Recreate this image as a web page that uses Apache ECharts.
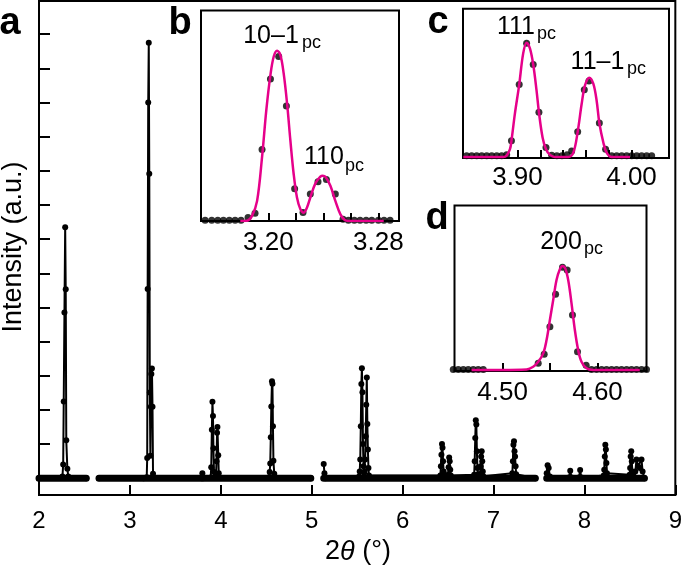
<!DOCTYPE html>
<html>
<head>
<meta charset="utf-8">
<script src="https://cdn.jsdelivr.net/npm/echarts@6/dist/echarts.min.js"></script>
<style>
html,body{margin:0;padding:0;background:#fff;}
#c{width:685px;height:576px;}
</style>
</head>
<body>
<div id="c"></div>
<script>
// ---------- main pattern (2θ in degrees, intensity in arbitrary units; null = gap in scan) ----------
const mainTheta = [
  2.000, 2.258, 2.266, 2.272, 2.280, 2.288, 2.294, 2.300, 2.312, 2.322, 2.520,
  2.590,
  2.660, 3.150, 3.185, 3.1903, 3.1954, 3.2015, 3.2075, 3.2131, 3.2191, 3.2252, 3.2305, 3.2361, 3.2422, 3.2487, 3.2543, 3.2582,
  3.790, 3.797, 3.804,
  3.8887, 3.8947, 3.9015, 3.9080, 3.9138, 3.9188, 3.9250, 3.9310, 3.9475, 3.9528, 3.9586, 3.9627, 3.9718, 3.9773, 3.9830,
  4.5320, 4.5375, 4.5438, 4.5498, 4.5558, 4.5631, 4.5680, 4.5736, 4.5789, 4.5880, 4.5940, 4.990,
  5.060,
  5.132, 5.140, 5.150,
  5.522, 5.528, 5.534, 5.540, 5.546, 5.552, 5.558, 5.564, 5.570, 5.576, 5.582, 5.588, 5.594, 5.600, 5.606, 5.612, 5.618, 5.624, 5.630,
  6.415, 6.421, 6.427, 6.433, 6.439, 6.445, 6.451, 6.457, 6.500, 6.506, 6.512, 6.518, 6.524, 6.530,
  6.787, 6.793, 6.799, 6.805, 6.811, 6.817, 6.823, 6.829, 6.852, 6.858, 6.864, 6.870, 6.876, 6.882, 6.888,
  7.207, 7.213, 7.219, 7.225, 7.231, 7.237, 7.243, 7.249, 7.460,
  7.520,
  7.585, 7.595, 7.607, 7.620, 7.830, 7.844, 7.858, 7.940, 7.953, 7.966,
  8.212, 8.218, 8.224, 8.230, 8.236, 8.242, 8.248,
  8.497, 8.503, 8.509, 8.515, 8.521, 8.527, 8.535, 8.560, 8.573, 8.590, 8.610, 8.628, 8.640, 8.660
];
const mainCounts = [
  0, 0.05, 0.40, 2.25, 4.85, 7.35, 5.53, 1.11, 0.28, 0.05, 0,
  null,
  0, 0, 0.03, 0.59, 5.54, 11.0, 12.75, 8.91, 2.51, 0.66, 2.09, 3.05, 3.21, 2.09, 0.13, 0.02,
  0, 0.15, 0,
  0.02, 0.32, 1.42, 2.24, 1.82, 0.88, 0.18, 0.02, 0.12, 0.50, 1.33, 1.50, 0.67, 0.15, 0.02,
  0.03, 0.18, 0.43, 1.20, 2.10, 2.84, 2.77, 1.52, 0.51, 0.13, 0.02, 0,
  null,
  0.42, 0.15, 0,
  0.05, 0.20, 0.55, 1.52, 2.76, 3.22, 2.52, 1.00, 0.35, 0.16, 0.20, 0.55, 1.23, 2.15, 2.95, 1.59, 0.84, 0.30, 0.08,
  0.08, 0.35, 0.69, 1.00, 0.89, 0.50, 0.20, 0.08, 0.10, 0.32, 0.61, 0.50, 0.25, 0.08,
  0.10, 0.50, 1.18, 1.70, 1.57, 0.79, 0.30, 0.12, 0.12, 0.35, 0.64, 0.79, 0.50, 0.20, 0.06,
  0.15, 0.50, 0.98, 1.08, 0.79, 0.64, 0.35, 0.12, 0,
  null,
  0.15, 0.38, 0.30, 0.05, 0.02, 0.22, 0.02, 0.02, 0.24, 0.02,
  0.08, 0.25, 0.64, 0.98, 0.84, 0.45, 0.15,
  0.10, 0.30, 0.64, 0.79, 0.50, 0.20, 0.10, 0.20, 0.55, 0.35, 0.30, 0.55, 0.20, 0
];
const mainXTicks = [2, 3, 4, 5, 6, 7, 8, 9];
const mainYTicks = [0, 1, 2, 3, 4, 5, 6, 7, 8, 9, 10, 11, 12, 13];

// ---------- inset b: 10-1 / 110 (normalised) ----------
const bTheta = [3.1540, 3.1588, 3.1632, 3.1673, 3.1716, 3.1758, 3.1801, 3.1852, 3.1903, 3.1954, 3.2015, 3.2075, 3.2131, 3.2191, 3.2252, 3.2305, 3.2361, 3.2422, 3.2487, 3.2543, 3.2582, 3.2625, 3.2667, 3.2711, 3.2752, 3.2800, 3.2841, 3.2885];
const bCounts = [0.005, 0.005, 0.005, 0.005, 0.005, 0.005, 0.005, 0.02, 0.045, 0.42, 0.834, 0.966, 0.675, 0.19, 0.05, 0.158, 0.231, 0.243, 0.158, 0.01, 0.005, 0.005, 0.005, 0.005, 0.005, 0.005, 0.005, 0.005];
const bFitTheta = [3.1796, 3.1845, 3.1881, 3.1918, 3.1954, 3.1985, 3.2015, 3.2039, 3.2063, 3.2087, 3.2111, 3.2136, 3.2160, 3.2184, 3.2208, 3.2233, 3.2257, 3.2281, 3.2305, 3.2342, 3.2378, 3.2395, 3.2415, 3.2451, 3.2487, 3.2524, 3.2560, 3.2596, 3.2839];
const bFit = [0, 0.002, 0.03, 0.118, 0.375, 0.651, 0.858, 0.966, 1.0, 0.976, 0.868, 0.690, 0.473, 0.276, 0.138, 0.069, 0.049, 0.079, 0.138, 0.221, 0.260, 0.266, 0.260, 0.207, 0.118, 0.039, 0.004, 0, 0];
const bTicks = [3.20, 3.22, 3.24, 3.26, 3.28];
const bLabels = [3.20, 3.28];

// ---------- inset c: 111 / 11-1 ----------
const cTheta = [3.8554, 3.8598, 3.8642, 3.8686, 3.8730, 3.8774, 3.8818, 3.8861, 3.8905, 3.8947, 3.9015, 3.9080, 3.9138, 3.9188, 3.9250, 3.9300, 3.9345, 3.9390, 3.9435, 3.9475, 3.9528, 3.9586, 3.9627, 3.9718, 3.9773, 3.9826, 3.9870, 3.9914, 3.9958, 4.0002, 4.0046, 4.0089, 4.0133, 4.0177];
const cCounts = [0.01, 0.01, 0.01, 0.01, 0.01, 0.01, 0.01, 0.01, 0.02, 0.141, 0.633, 0.994, 0.809, 0.391, 0.082, 0.015, 0.01, 0.01, 0.02, 0.053, 0.221, 0.589, 0.665, 0.297, 0.068, 0.01, 0.01, 0.01, 0.01, 0.01, 0.01, 0.01, 0.01, 0.01];
const cFitTheta = [3.8525, 3.8876, 3.8905, 3.8934, 3.8947, 3.8977, 3.9015, 3.9050, 3.9080, 3.9109, 3.9138, 3.9167, 3.9188, 3.9220, 3.9250, 3.9285, 3.9329, 3.9446, 3.9490, 3.9528, 3.9563, 3.9592, 3.9630, 3.9665, 3.9694, 3.9718, 3.9753, 3.9782, 3.9826, 3.9987];
const cFit = [0, 0, 0.012, 0.068, 0.141, 0.377, 0.633, 0.906, 1.0, 0.950, 0.809, 0.583, 0.391, 0.171, 0.068, 0.018, 0, 0, 0.038, 0.221, 0.465, 0.627, 0.694, 0.641, 0.494, 0.297, 0.127, 0.038, 0, 0];
const cTicks = [3.90, 3.92, 3.94, 3.96, 3.98, 4.00];
const cLabels = [3.90, 4.00];

// ---------- inset d: 200 ----------
const dTheta = [4.4480, 4.4533, 4.4586, 4.4638, 4.4691, 4.4743, 4.4796, 4.5375, 4.5438, 4.5498, 4.5558, 4.5631, 4.5680, 4.5736, 4.5789, 4.5880, 4.5937, 4.5990, 4.6043, 4.6095, 4.6148, 4.6200, 4.6253, 4.6306, 4.6358, 4.6411, 4.6464, 4.6516];
const dCounts = [0.005, 0.005, 0.005, 0.005, 0.005, 0.005, 0.005, 0.064, 0.151, 0.417, 0.728, 0.987, 0.962, 0.529, 0.176, 0.045, 0.005, 0.005, 0.005, 0.005, 0.005, 0.005, 0.005, 0.005, 0.005, 0.005, 0.005, 0.005];
const dFitTheta = [4.4673, 4.5252, 4.5322, 4.5375, 4.5428, 4.5463, 4.5498, 4.5533, 4.5568, 4.5603, 4.5631, 4.5659, 4.5691, 4.5726, 4.5761, 4.5796, 4.5831, 4.5884, 4.5954, 4.6445];
const dFit = [0, 0.006, 0.032, 0.080, 0.16, 0.288, 0.481, 0.673, 0.865, 0.968, 1.0, 0.978, 0.865, 0.641, 0.385, 0.192, 0.080, 0.016, 0, 0];
const dTicks = [4.50, 4.55, 4.60];
const dLabels = [4.50, 4.60];

// ---------- build ----------
const pairs = (xs, ys) => xs.map((x, i) => [x, ys[i]]);
const mainData = pairs(mainTheta, mainCounts);
// thick baseline band spanning each contiguous scan segment
const bandData = [];
let segStart = null, segEnd = null;
mainTheta.forEach((x, i) => {
  if (mainCounts[i] === null) {
    if (segStart !== null) { bandData.push([segStart, 0], [segEnd, 0], [x, null]); }
    segStart = null;
  } else {
    if (segStart === null) segStart = x;
    segEnd = x;
  }
});
if (segStart !== null) bandData.push([segStart, 0], [segEnd, 0]);

const FONT = 'Liberation Sans, Arial, Helvetica, sans-serif';
const MAGENTA = '#E6008A';
const fmt2 = v => Number(v).toFixed(2);

function insetX(idx, min, max, ticks, labels, margin) {
  return {
    type: 'value', gridIndex: idx, min: min, max: max,
    axisLine: { show: true, onZero: false, lineStyle: { color: '#000', width: 2 } },
    axisTick: { show: true, inside: true, length: 8, customValues: ticks, lineStyle: { color: '#000', width: 2 } },
    axisLabel: { show: true, customValues: labels, formatter: fmt2, color: '#000', fontSize: 26, fontFamily: FONT, margin: margin },
    splitLine: { show: false }
  };
}
function insetY(idx, min, max) {
  return {
    type: 'value', gridIndex: idx, min: min, max: max,
    axisLine: { show: false }, axisTick: { show: false }, axisLabel: { show: false }, splitLine: { show: false }
  };
}

const option = {
  animation: false,
  backgroundColor: '#fff',
  grid: [
    { left: 39, top: 1, width: 640, height: 494, show: true, borderColor: '#000', borderWidth: 2, containLabel: false },
    { left: 201, top: 10.5, width: 198, height: 210.5, show: true, borderColor: '#000', borderWidth: 2, backgroundColor: '#fff' },
    { left: 463, top: 8.7, width: 206, height: 149.3, show: true, borderColor: '#000', borderWidth: 2, backgroundColor: '#fff' },
    { left: 454.5, top: 205.5, width: 192, height: 165.5, show: true, borderColor: '#000', borderWidth: 2, backgroundColor: '#fff' }
  ],
  xAxis: [
    {
      type: 'value', gridIndex: 0, min: 2, max: 9, interval: 1,
      axisLine: { show: true, onZero: false, lineStyle: { color: '#000', width: 2 } },
      axisTick: { show: true, inside: true, length: 10, customValues: mainXTicks, lineStyle: { color: '#000', width: 2 } },
      axisLabel: { show: true, customValues: mainXTicks, color: '#000', fontSize: 24, fontFamily: FONT, margin: 14 },
      splitLine: { show: false }
    },
    insetX(1, 3.151, 3.295, bTicks, bLabels, 9),
    insetX(2, 3.8522, 4.0329, cTicks, cLabels, 7),
    insetX(3, 4.4493, 4.6516, dTicks, dLabels, 9)
  ],
  yAxis: [
    {
      type: 'value', gridIndex: 0, min: -0.49, max: 13.97,
      axisLine: { show: true, onZero: false, lineStyle: { color: '#000', width: 2 } },
      axisTick: { show: true, inside: true, length: 11, customValues: mainYTicks, lineStyle: { color: '#000', width: 2 } },
      axisLabel: { show: false },
      splitLine: { show: false }
    },
    insetY(1, 0, 1.236),
    insetY(2, -0.009, 1.297),
    insetY(3, -0.0096, 1.582)
  ],
  series: [
    { type: 'line', xAxisIndex: 0, yAxisIndex: 0, data: bandData, symbol: 'none', connectNulls: false,
      lineStyle: { color: '#000', width: 7, cap: 'round' }, z: 2, silent: true },
    { type: 'line', xAxisIndex: 0, yAxisIndex: 0, data: mainData, connectNulls: false,
      symbol: 'circle', symbolSize: 6, showAllSymbol: true, itemStyle: { color: '#000' },
      lineStyle: { color: '#000', width: 2 }, z: 3, silent: true },
    { type: 'scatter', xAxisIndex: 1, yAxisIndex: 1, data: pairs(bTheta, bCounts), symbolSize: 7, itemStyle: { color: '#000' }, clip: false, z: 4 },
    { type: 'line', xAxisIndex: 1, yAxisIndex: 1, data: pairs(bFitTheta, bFit), smooth: 0.35, symbol: 'none',
      lineStyle: { color: MAGENTA, width: 2.5 }, z: 5 },
    { type: 'scatter', xAxisIndex: 2, yAxisIndex: 2, data: pairs(cTheta, cCounts), symbolSize: 7, itemStyle: { color: '#000' }, clip: false, z: 4 },
    { type: 'line', xAxisIndex: 2, yAxisIndex: 2, data: pairs(cFitTheta, cFit), smooth: 0.35, symbol: 'none',
      lineStyle: { color: MAGENTA, width: 2.5 }, z: 5 },
    { type: 'scatter', xAxisIndex: 3, yAxisIndex: 3, data: pairs(dTheta, dCounts), symbolSize: 7, itemStyle: { color: '#000' }, clip: false, z: 4 },
    { type: 'line', xAxisIndex: 3, yAxisIndex: 3, data: pairs(dFitTheta, dFit), smooth: 0.35, symbol: 'none',
      lineStyle: { color: MAGENTA, width: 2.5 }, z: 5 }
  ],
  graphic: [
    // panel letters
    { type: 'text', x: 10, y: 24, style: { text: 'a', font: 'bold 38px ' + FONT, fill: '#000', align: 'center', verticalAlign: 'middle' } },
    { type: 'text', x: 180, y: 24, style: { text: 'b', font: 'bold 38px ' + FONT, fill: '#000', align: 'center', verticalAlign: 'middle' } },
    { type: 'text', x: 438, y: 23, style: { text: 'c', font: 'bold 38px ' + FONT, fill: '#000', align: 'center', verticalAlign: 'middle' } },
    { type: 'text', x: 437, y: 219, style: { text: 'd', font: 'bold 38px ' + FONT, fill: '#000', align: 'center', verticalAlign: 'middle' } },
    // peak labels
    { type: 'text', x: 271, y: 36, z: 10, style: { text: '10–1', font: '25px ' + FONT, fill: '#000', align: 'center', verticalAlign: 'middle' } },
    { type: 'text', x: 302, y: 43, z: 10, style: { text: 'pc', font: '18px ' + FONT, fill: '#000', align: 'left', verticalAlign: 'middle' } },
    { type: 'text', x: 324, y: 157, z: 10, style: { text: '110', font: '25px ' + FONT, fill: '#000', align: 'center', verticalAlign: 'middle' } },
    { type: 'text', x: 345, y: 166, z: 10, style: { text: 'pc', font: '18px ' + FONT, fill: '#000', align: 'left', verticalAlign: 'middle' } },
    { type: 'text', x: 516, y: 27, z: 10, style: { text: '111', font: '25px ' + FONT, fill: '#000', align: 'center', verticalAlign: 'middle' } },
    { type: 'text', x: 537, y: 34.5, z: 10, style: { text: 'pc', font: '18px ' + FONT, fill: '#000', align: 'left', verticalAlign: 'middle' } },
    { type: 'text', x: 597.5, y: 62, z: 10, style: { text: '11–1', font: '25px ' + FONT, fill: '#000', align: 'center', verticalAlign: 'middle' } },
    { type: 'text', x: 627, y: 69.5, z: 10, style: { text: 'pc', font: '18px ' + FONT, fill: '#000', align: 'left', verticalAlign: 'middle' } },
    { type: 'text', x: 561, y: 242, z: 10, style: { text: '200', font: '25px ' + FONT, fill: '#000', align: 'center', verticalAlign: 'middle' } },
    { type: 'text', x: 584, y: 249.5, z: 10, style: { text: 'pc', font: '18px ' + FONT, fill: '#000', align: 'left', verticalAlign: 'middle' } },
    // axis titles
    { type: 'text', x: 14, y: 247, rotation: Math.PI / 2, style: { text: 'Intensity (a.u.)', font: '27px ' + FONT, fill: '#000', align: 'center', verticalAlign: 'middle' } },
    { type: 'text', x: 358, y: 552, style: {
        text: '{n|2}{i|θ}{n| (°)}', fill: '#000', align: 'center', verticalAlign: 'middle',
        rich: { n: { fontSize: 27, fontFamily: FONT, fill: '#000' }, i: { fontSize: 27, fontFamily: FONT, fontStyle: 'italic', fill: '#000' } }
      } }
  ]
};

const chart = echarts.init(document.getElementById('c'), null, { renderer: 'canvas', width: 685, height: 576 });
chart.setOption(option);
</script>
</body>
</html>
